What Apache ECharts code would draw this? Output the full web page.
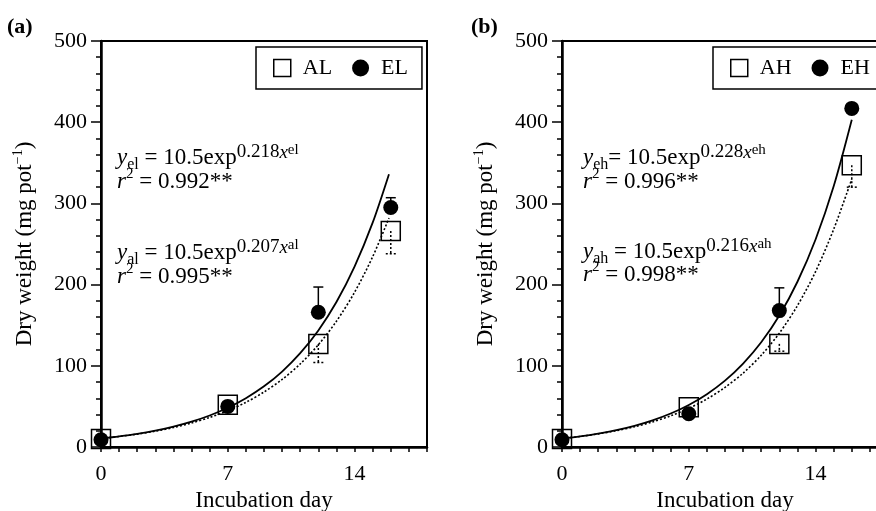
<!DOCTYPE html>
<html>
<head>
<meta charset="utf-8">
<title>Dry weight vs incubation day</title>
<script src="https://cdn.jsdelivr.net/npm/echarts@6/dist/echarts.min.js"></script>
<style>
  html, body { margin: 0; padding: 0; background: #fff; }
  #chart { width: 876px; height: 511px; }
</style>
</head>
<body>
<div id="chart"></div>
<script>
const FONT = 'Liberation Serif'

// sampling days and mean dry weight (mg pot-1)
const days = [0, 7, 12, 16]
const alMean = [10, 52, 127, 266]
const elMean = [9, 50, 166, 295]
const ahMean = [10, 49, 127, 347]
const ehMean = [9, 41, 168, 417]

// error bar ends, null where the bar hides under the marker
const elBarTop = [null, null, 197, 307]
const alBarLow = [null, null, 104, 238]
const ehBarTop = [null, null, 196, null]
const ahBarLow = [null, null, 118, 320]

// fitted curves
const fitDaysA = [0, 1, 2, 3, 4, 5, 6, 7, 8, 9, 10, 11, 12, 13, 14, 15, 15.9]
const elFit = [10.5, 13.1, 16.2, 20.2, 25.1, 31.2, 38.8, 48.3, 60.1, 74.7, 92.9, 115.5, 143.6, 178.6, 222.2, 276.3, 336]
const alFit = [10.5, 12.9, 15.9, 19.5, 24.0, 29.6, 36.4, 44.7, 55.0, 67.7, 83.2, 102.3, 125.9, 154.9, 190.5, 234.3, 282]
const fitDaysB = [0, 1, 2, 3, 4, 5, 6, 7, 8, 9, 10, 11, 12, 13, 14, 15, 16]
const ehFit = [10.5, 13.2, 16.6, 20.8, 26.1, 32.8, 41.2, 51.8, 65.1, 81.7, 102.7, 128.9, 161.9, 203.5, 255.6, 321, 403]
const ahFit = [10.5, 13.0, 16.2, 20.1, 24.9, 30.9, 38.4, 47.6, 59.1, 73.4, 91.0, 113.0, 140.2, 174.1, 216.0, 268.1, 330]

const xLabels = [0, 7, 14]

const pairs = (xs, ys) => xs.map((x, i) => [x, ys[i]])
const bars = (xs, from, to) => xs
  .map((x, i) => (to[i] == null ? null : [x, from[i], to[i]]))
  .filter(Boolean)

const black = { color: '#000', width: 1.5 }

function xAxisFor(i) {
  return {
    gridIndex: i,
    type: 'value',
    min: 0,
    max: 18,
    interval: 1,
    name: 'Incubation day',
    nameLocation: 'middle',
    nameGap: 40,
    nameTextStyle: { fontFamily: FONT, fontSize: 23, color: '#000' },
    axisLine: { show: true, lineStyle: { color: '#000', width: 2.5 } },
    axisTick: { show: true, length: 5, lineStyle: black },
    axisLabel: {
      margin: 16,
      fontFamily: FONT,
      fontSize: 22,
      color: '#000',
      formatter: v => (xLabels.includes(v) ? String(v) : '')
    },
    splitLine: { show: false }
  }
}

function yAxisFor(i) {
  return {
    gridIndex: i,
    type: 'value',
    min: 0,
    max: 500,
    interval: 100,
    name: '{m|Dry weight (mg pot}{s|−1}{m|)}',
    nameLocation: 'middle',
    nameGap: 62,
    nameTextStyle: {
      color: '#000',
      rich: {
        m: { fontFamily: FONT, fontSize: 23, lineHeight: 28, verticalAlign: 'middle', color: '#000' },
        s: { fontFamily: FONT, fontSize: 14, lineHeight: 12, verticalAlign: 'top', color: '#000' }
      }
    },
    axisLine: { show: true, lineStyle: { color: '#000', width: 2.5 } },
    axisTick: { show: true, length: 10, lineStyle: black },
    minorTick: { show: true, splitNumber: 5, length: 5, lineStyle: black },
    axisLabel: { margin: 14, fontFamily: FONT, fontSize: 22, color: '#000' },
    splitLine: { show: false }
  }
}

function fitLine(name, i, data, dotted) {
  return {
    name,
    type: 'line',
    xAxisIndex: i,
    yAxisIndex: i,
    data,
    smooth: 0.3,
    showSymbol: false,
    silent: true,
    z: 2,
    lineStyle: { color: '#000', width: dotted ? 1.6 : 1.8, type: dotted ? [2, 2] : 'solid' }
  }
}

function errorBars(name, i, data, dotted) {
  return {
    name,
    type: 'custom',
    xAxisIndex: i,
    yAxisIndex: i,
    data,
    z: 3,
    silent: true,
    renderItem(params, api) {
      const x = api.value(0)
      const a = api.coord([x, api.value(1)])
      const b = api.coord([x, api.value(2)])
      const style = { stroke: '#000', lineWidth: 1.5 }
      if (dotted) style.lineDash = [2, 2]
      return {
        type: 'group',
        children: [
          { type: 'line', shape: { x1: a[0], y1: a[1], x2: b[0], y2: b[1] }, style },
          { type: 'line', shape: { x1: b[0] - 5, y1: b[1], x2: b[0] + 5, y2: b[1] }, style }
        ]
      }
    }
  }
}

function squares(name, i, data) {
  return {
    name,
    type: 'scatter',
    xAxisIndex: i,
    yAxisIndex: i,
    data,
    symbol: 'rect',
    symbolSize: 19,
    z: 4,
    itemStyle: { color: 'rgba(0,0,0,0)', borderColor: '#000', borderWidth: 1.5, opacity: 1 }
  }
}

function dots(name, i, data) {
  return {
    name,
    type: 'scatter',
    xAxisIndex: i,
    yAxisIndex: i,
    data,
    symbol: 'circle',
    symbolSize: 15,
    z: 5,
    itemStyle: { color: '#000', opacity: 1 }
  }
}

function legendFor(left, open, filled) {
  return {
    left,
    top: 47,
    width: 200,
    orient: 'horizontal',
    selectedMode: false,
    borderColor: '#000',
    borderWidth: 1.5,
    padding: [10, 14, 10, 17],
    itemGap: 20,
    itemWidth: 17,
    itemHeight: 17,
    textStyle: { fontFamily: FONT, fontSize: 22, color: '#000', padding: [0, 0, 0, 7] },
    data: [
      { name: open, icon: 'rect', itemStyle: { color: '#fff', borderColor: '#000', borderWidth: 1.5, opacity: 1 } },
      { name: filled, icon: 'circle', itemStyle: { color: '#000', opacity: 1 } }
    ]
  }
}

const eqRich = {
  m: { fontFamily: FONT, fontSize: 23, lineHeight: 30, verticalAlign: 'middle' },
  i: { fontFamily: FONT, fontSize: 23, fontStyle: 'italic', lineHeight: 30, verticalAlign: 'middle' },
  sb: { fontFamily: FONT, fontSize: 16, lineHeight: 16, verticalAlign: 'bottom' },
  sp: { fontFamily: FONT, fontSize: 19, lineHeight: 14, verticalAlign: 'top' },
  spi: { fontFamily: FONT, fontSize: 19, fontStyle: 'italic', lineHeight: 14, verticalAlign: 'top' },
  sps: { fontFamily: FONT, fontSize: 15, lineHeight: 19, verticalAlign: 'top' },
  r2: { fontFamily: FONT, fontSize: 15, lineHeight: 18, verticalAlign: 'top' }
}

function eq(x, y, text) {
  return {
    type: 'text',
    x,
    y,
    style: { text, rich: eqRich, fill: '#000', align: 'left', verticalAlign: 'top', textAlign: 'left', textVerticalAlign: 'top' }
  }
}

function panelTag(x, text) {
  return {
    type: 'text',
    x,
    y: 27,
    style: { text, font: 'bold 22px "Liberation Serif"', fill: '#000', verticalAlign: 'middle', textVerticalAlign: 'middle' }
  }
}

const chart = echarts.init(document.getElementById('chart'))
chart.setOption({
  animation: false,
  backgroundColor: '#fff',
  grid: [
    { left: 101, top: 41, width: 326, height: 406, show: true, borderColor: '#000', borderWidth: 2, outerBoundsMode: 'none' },
    { left: 562, top: 41, width: 326, height: 406, show: true, borderColor: '#000', borderWidth: 2, outerBoundsMode: 'none' }
  ],
  xAxis: [xAxisFor(0), xAxisFor(1)],
  yAxis: [yAxisFor(0), yAxisFor(1)],
  legend: [legendFor(256, 'AL', 'EL'), legendFor(713, 'AH', 'EH')],
  graphic: [
    panelTag(7, '(a)'),
    panelTag(471, '(b)'),
    eq(117, 143, '{i|y}{sb|el}{m| = 10.5exp}{sp|0.218}{spi|x}{sps|el}'),
    eq(117, 167, '{i|r}{r2|2}{m| = 0.992**}'),
    eq(117, 238, '{i|y}{sb|al}{m| = 10.5exp}{sp|0.207}{spi|x}{sps|al}'),
    eq(117, 262, '{i|r}{r2|2}{m| = 0.995**}'),
    eq(583, 143, '{i|y}{sb|eh}{m|= 10.5exp}{sp|0.228}{spi|x}{sps|eh}'),
    eq(583, 167, '{i|r}{r2|2}{m| = 0.996**}'),
    eq(583, 237, '{i|y}{sb|ah}{m| = 10.5exp}{sp|0.216}{spi|x}{sps|ah}'),
    eq(583, 260, '{i|r}{r2|2}{m| = 0.998**}')
  ],
  series: [
    fitLine('AL fit', 0, pairs(fitDaysA, alFit), true),
    fitLine('EL fit', 0, pairs(fitDaysA, elFit), false),
    errorBars('AL sd', 0, bars(days, alMean, alBarLow), true),
    errorBars('EL sd', 0, bars(days, elMean, elBarTop), false),
    squares('AL', 0, pairs(days, alMean)),
    dots('EL', 0, pairs(days, elMean)),

    fitLine('AH fit', 1, pairs(fitDaysB, ahFit), true),
    fitLine('EH fit', 1, pairs(fitDaysB, ehFit), false),
    errorBars('AH sd', 1, bars(days, ahMean, ahBarLow), true),
    errorBars('EH sd', 1, bars(days, ehMean, ehBarTop), false),
    squares('AH', 1, pairs(days, ahMean)),
    dots('EH', 1, pairs(days, ehMean))
  ]
})
</script>
</body>
</html>
